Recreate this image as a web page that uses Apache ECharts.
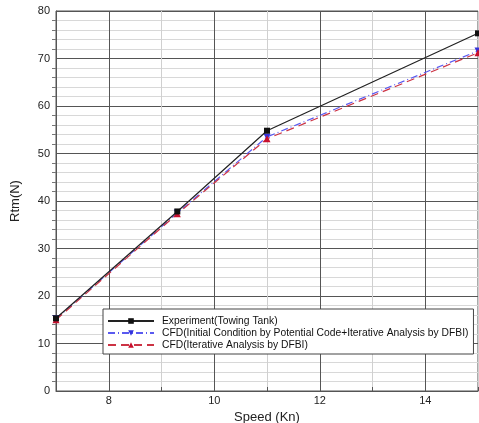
<!DOCTYPE html>
<html>
<head>
<meta charset="utf-8">
<script src="https://cdn.jsdelivr.net/npm/echarts@6/dist/echarts.min.js"></script>
<style>
  html, body { margin: 0; padding: 0; background: #fff; }
  #chart { width: 479px; height: 423px; }
</style>
</head>
<body>
<div id="chart"></div>
<script>
// Total resistance vs. ship speed: towing tank test and two CFD approaches
const seriesNames = [
  'Experiment(Towing Tank)',
  'CFD(Initial Condition by Potential Code+Iterative Analysis by DFBI)',
  'CFD(Iterative Analysis by DFBI)'
];
const speeds = [7, 9.3, 11, 15];
const experiment = [15.3, 37.8, 54.8, 75.3];
const cfdPotential = [15.2, 37.5, 53.5, 71.6];
const cfdDfbi = [15.0, 37.3, 53.1, 71.2];

const pairs = (xs, ys) => xs.map((x, i) => [x, ys[i]]);

const chart = echarts.init(document.getElementById('chart'), null, { renderer: 'canvas' });
const font = 'Liberation Sans, Arial, sans-serif';

chart.setOption({
  animation: false,
  backgroundColor: '#fff',
  textStyle: { fontFamily: font },
  grid: {
    left: 56, right: 1, top: 11, bottom: 32,
    outerBoundsMode: 'none', containLabel: false,
    show: true, borderColor: '#555', borderWidth: 1, backgroundColor: 'transparent'
  },
  xAxis: {
    type: 'value', min: 7, max: 15, interval: 1,
    name: 'Speed (Kn)', nameLocation: 'middle', nameGap: 17,
    nameTextStyle: { fontSize: 13, color: '#222', fontFamily: font },
    axisLine: { lineStyle: { color: '#555' } },
    axisTick: { inside: true, length: 4, lineStyle: { color: '#555' } },
    axisLabel: {
      fontSize: 11, color: '#222', margin: 4,
      formatter: v => (v % 2 === 0 ? String(v) : '')
    },
    splitLine: { show: true, lineStyle: { color: ['#d0d0d0', '#555'], width: 1 } }
  },
  yAxis: {
    type: 'value', min: 0, max: 80, interval: 10,
    name: 'Rtm(N)', nameLocation: 'middle', nameGap: 34, nameRotate: 90,
    nameTextStyle: { fontSize: 13, color: '#222', fontFamily: font },
    axisLine: { show: true, lineStyle: { color: '#555' } },
    axisTick: { show: false },
    minorTick: { show: true, splitNumber: 5, length: 4, lineStyle: { color: '#777' } },
    minorSplitLine: { show: true, lineStyle: { color: '#d8d8d8' } },
    axisLabel: { fontSize: 11, color: '#222', margin: 6 },
    splitLine: { show: true, lineStyle: { color: '#555', width: 1 } }
  },
  legend: {
    left: 103, top: 309, orient: 'vertical',
    itemWidth: 46, itemHeight: 7, itemGap: 2,
    padding: [7, 5, 4, 4],
    borderColor: '#444', borderWidth: 1, backgroundColor: '#fff',
    textStyle: { fontSize: 10.3, color: '#111', fontFamily: font, padding: [0, 0, 0, 3] },
    data: seriesNames
  },
  series: [
    {
      name: seriesNames[0], type: 'line', data: pairs(speeds, experiment),
      symbol: 'rect', symbolSize: 6, z: 4,
      lineStyle: { color: '#222', width: 1.2, type: 'solid' },
      itemStyle: { color: '#111' }
    },
    {
      name: seriesNames[1], type: 'line', data: pairs(speeds, cfdPotential),
      symbol: 'triangle', symbolRotate: 180, symbolSize: 7, z: 3,
      lineStyle: { color: '#5a5af0', width: 1.2, type: [7, 3, 1, 3] },
      itemStyle: { color: '#3333dd' }
    },
    {
      name: seriesNames[2], type: 'line', data: pairs(speeds, cfdDfbi),
      symbol: 'triangle', symbolSize: 7, z: 3,
      lineStyle: { color: '#cc3344', width: 1.2, type: [8, 5] },
      itemStyle: { color: '#c8102e' }
    }
  ]
});
</script>
</body>
</html>
